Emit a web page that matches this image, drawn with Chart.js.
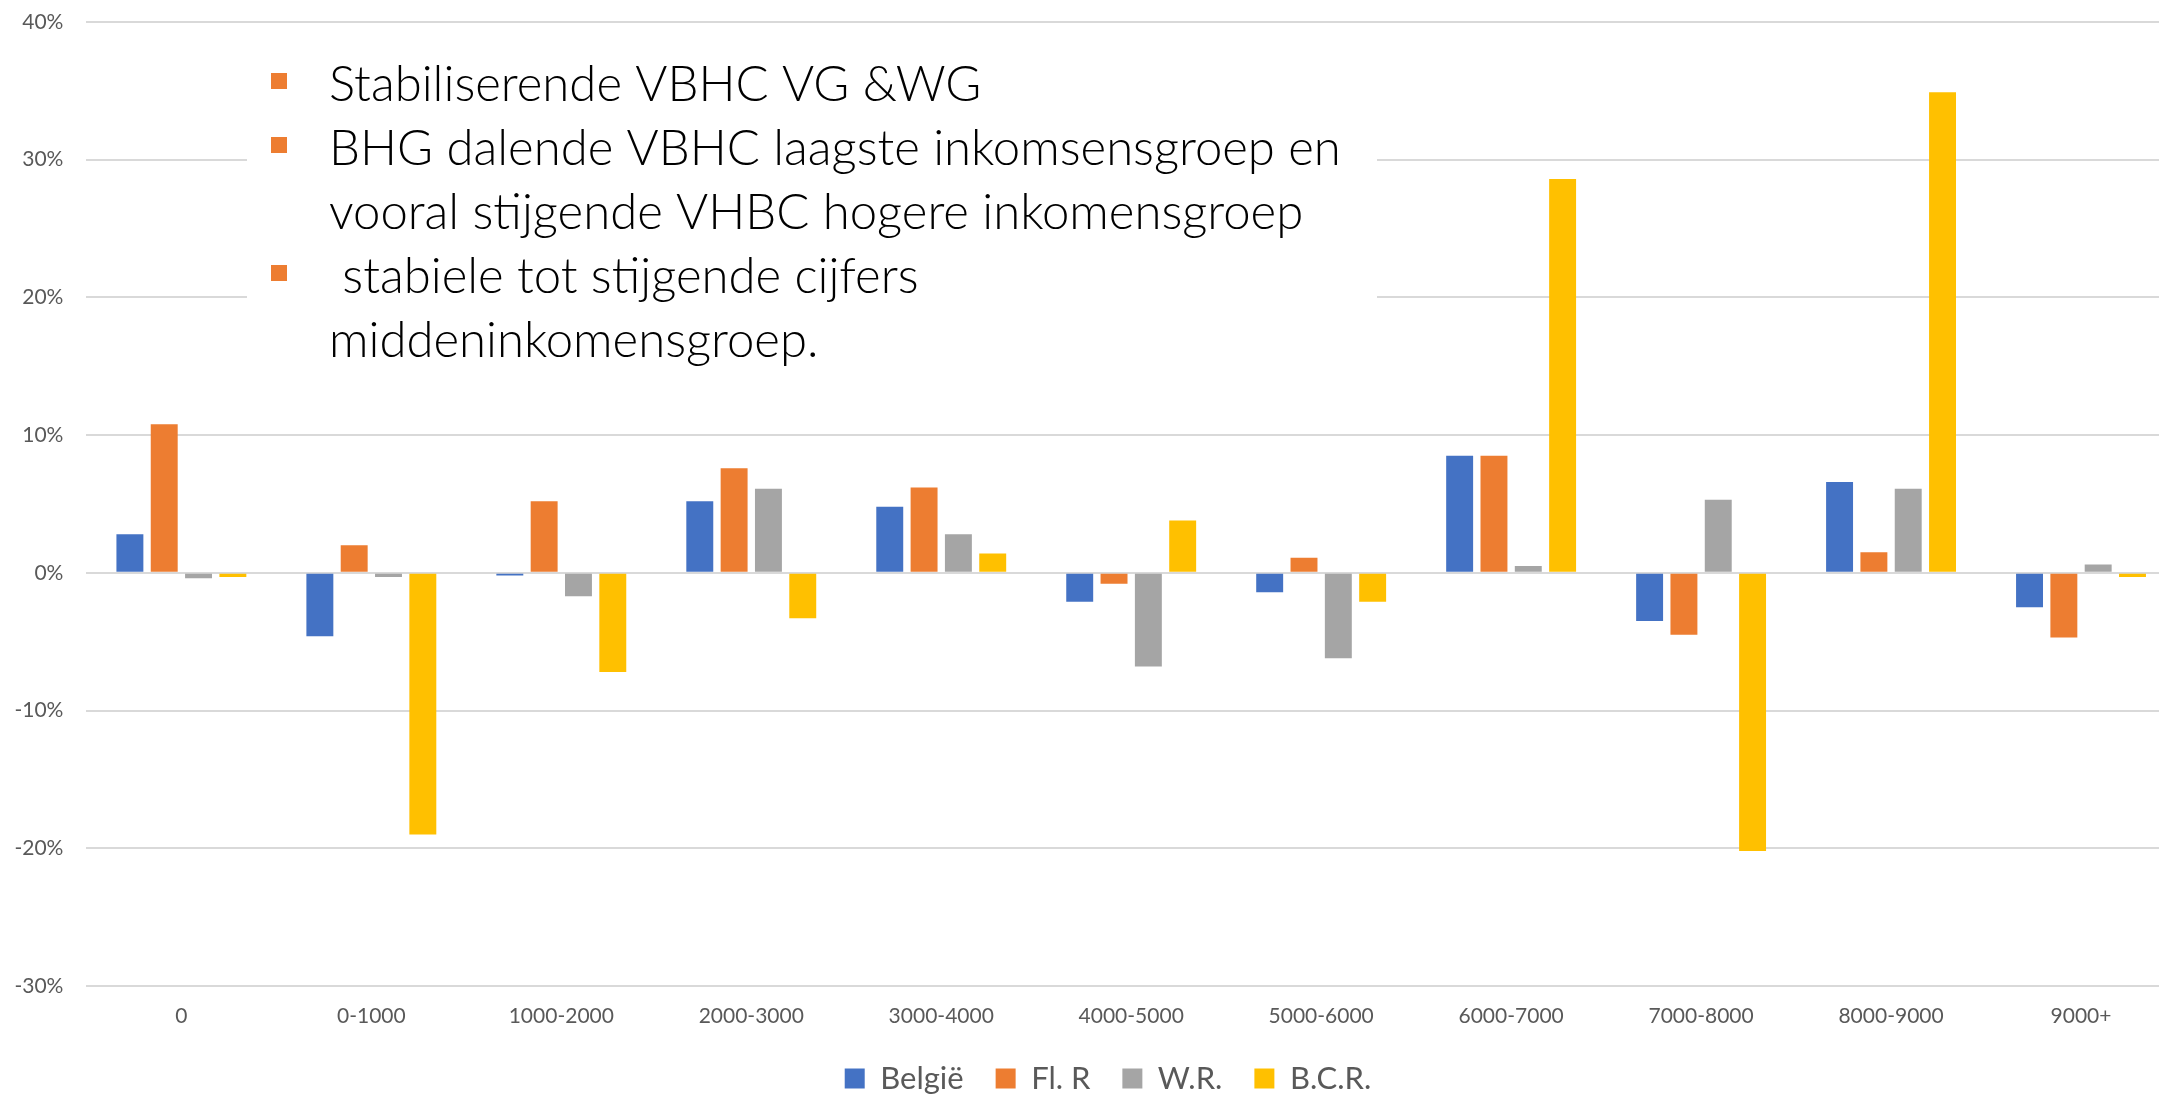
<!DOCTYPE html>
<html>
<head>
<meta charset="utf-8">
<script src="https://cdn.jsdelivr.net/npm/chart.js@4.4.1/dist/chart.umd.min.js"></script>
<style>
  html, body { margin: 0; padding: 0; overflow: hidden; background: #fff; width: 2159px; height: 1094px; }
  canvas { display: block; }
</style>
</head>
<body>
<canvas id="chart" width="2176" height="1104"></canvas>
<script>
/* ==== data ========================================================= */
const categories = ['0', '0-1000', '1000-2000', '2000-3000', '3000-4000', '4000-5000',
  '5000-6000', '6000-7000', '7000-8000', '8000-9000', '9000+'];
const belgie = [2.8, -4.6, -0.2, 5.2, 4.8, -2.1, -1.4, 8.5, -3.5, 6.6, -2.5];
const flR    = [10.8, 2.0, 5.2, 7.6, 6.2, -0.8, 1.1, 8.5, -4.5, 1.5, -4.7];
const wR     = [-0.4, -0.3, -1.7, 6.1, 2.8, -6.8, -6.2, 0.5, 5.3, 6.1, 0.6];
const bcr    = [-0.3, -19.0, -7.2, -3.3, 1.4, 3.8, -2.1, 28.6, -20.2, 34.9, -0.3];
const seriesNames = ['België', 'Fl. R', 'W.R.', 'B.C.R.'];
const yTicks = { min: -30, max: 40, step: 10 };

const noteLines = [
  'Stabiliserende VBHC VG &WG',
  'BHG dalende VBHC laagste inkomsensgroep en',
  'vooral stijgende VHBC hogere inkomensgroep',
  ' stabiele tot stijgende cijfers',
  'middeninkomensgroep.'
];
const noteBullets = [0, 1, 3]; // lines starting with a bullet

/* ==== style ======================================================== */
const colors = ['#4472C4', '#ED7D31', '#A5A5A5', '#FFC000'];
const FONT = 'Lato, "Liberation Sans", sans-serif';
const TXT = '#595959';

// legend in the original is centred a bit left of the plot centre
const legendShift = {
  id: 'legendShift',
  afterLayout(chart) { chart.legend.left = 40; }
};

// text box drawn over the grid, like the pasted slide text in the original
const noteBox = {
  id: 'noteBox',
  afterDraw(chart) {
    const ctx = chart.ctx;
    ctx.save();
    ctx.fillStyle = '#fff';
    ctx.fillRect(247, 28, 1130, 356);
    // fit font so the longest line spans like the original
    ctx.font = `300 100px ${FONT}`;
    const w = ctx.measureText(noteLines[1]).width;
    const size = 100 * 1012 / w;
    ctx.font = `300 ${size}px ${FONT}`;
    ctx.fillStyle = '#000';
    ctx.textBaseline = 'alphabetic';
    noteLines.forEach((t, i) => ctx.fillText(t, 329, 101 + i * 64));
    ctx.fillStyle = colors[1];
    noteBullets.forEach(i => ctx.fillRect(271, 73 + i * 64, 16, 16));
    ctx.restore();
  }
};

/* ==== chart ======================================================== */
const data = [belgie, flR, wR, bcr];
new Chart(document.getElementById('chart'), {
  type: 'bar',
  data: {
    labels: categories,
    datasets: data.map((d, i) => ({
      label: seriesNames[i],
      data: d,
      backgroundColor: colors[i],
      borderWidth: 0,
      categoryPercentage: 0.7227,
      barPercentage: 0.785
    }))
  },
  options: {
    responsive: false,
    animation: false,
    layout: { padding: { left: 0, top: 22, right: 0, bottom: 0 } },
    plugins: {
      legend: {
        position: 'bottom',
        labels: { boxWidth: 20, boxHeight: 20, padding: 32, color: TXT, font: { family: FONT, size: 31 } }
      },
      tooltip: { enabled: false }
    },
    scales: {
      x: {
        grid: { display: false, drawTicks: false },
        border: { display: false },
        ticks: { color: TXT, padding: 18, font: { family: FONT, size: 21 }, maxRotation: 0, autoSkip: false },
        afterFit: s => { s.height = 45; }
      },
      y: {
        min: yTicks.min, max: yTicks.max,
        grid: { color: '#d9d9d9', lineWidth: 2, drawTicks: false },
        border: { display: false },
        ticks: { stepSize: yTicks.step, color: TXT, padding: 23, font: { family: FONT, size: 21 }, callback: v => v + '%' },
        afterFit: s => { s.width = 86.4; s.paddingTop = 0; s.paddingBottom = 0; }
      }
    }
  },
  plugins: [legendShift, noteBox]
});
</script>
</body>
</html>
